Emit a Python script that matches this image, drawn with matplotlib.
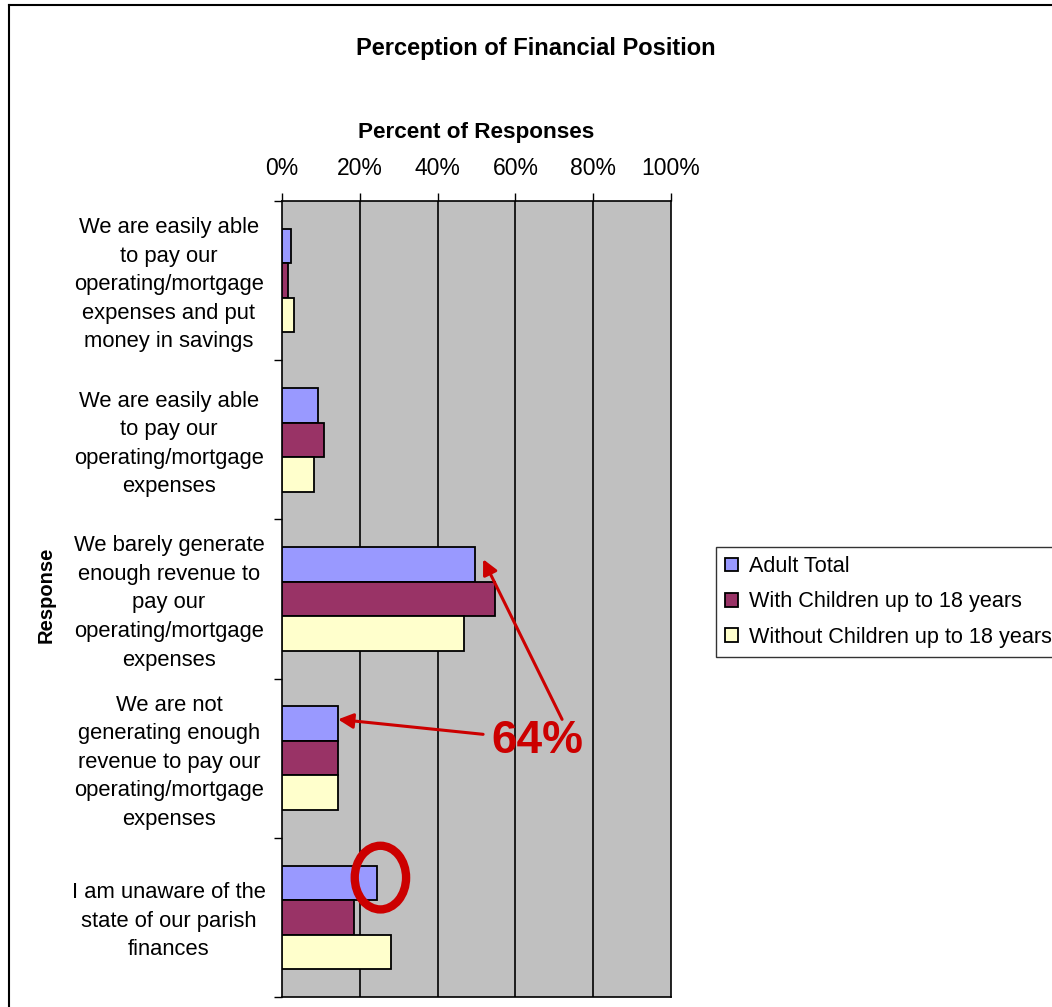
import numpy as np
import matplotlib.pyplot as plt
from matplotlib.patches import Ellipse
from matplotlib.lines import Line2D

plt.rcParams['font.family'] = ['Liberation Sans', 'DejaVu Sans']

# survey answers, top to bottom
responses = [
    "We are easily able\nto pay our\noperating/mortgage\nexpenses and put\nmoney in savings",
    "We are easily able\nto pay our\noperating/mortgage\nexpenses",
    "We barely generate\nenough revenue to\npay our\noperating/mortgage\nexpenses",
    "We are not\ngenerating enough\nrevenue to pay our\noperating/mortgage\nexpenses",
    "I am unaware of the\nstate of our parish\nfinances",
]
adult_total = [2.4, 9.3, 49.6, 14.4, 24.4]
with_children = [1.6, 10.9, 54.8, 14.4, 18.6]
without_children = [3.1, 8.2, 46.9, 14.4, 27.9]
series_names = ["Adult Total", "With Children up to 18 years",
                "Without Children up to 18 years"]
series_colors = ["#9999FF", "#993366", "#FFFFCC"]
xticks = [0, 20, 40, 60, 80, 100]
highlight = 64

W, H = 1052, 1007
fig = plt.figure(figsize=(W / 100, H / 100), dpi=100)
ax = fig.add_axes([282 / W, 10 / H, 389 / W, 796 / H])
ax.set_facecolor("#C0C0C0")

y = np.arange(len(responses))
bh = 0.2165
for k, (vals, name, col) in enumerate(zip([adult_total, with_children, without_children],
                                          series_names, series_colors)):
    ax.barh(y + (k - 1) * bh, vals, height=bh, color=col, edgecolor="black",
            linewidth=1.3, label=name, zorder=3)

ax.set_xlim(0, 100)
ax.set_ylim(len(responses) - 0.5, -0.5)
ax.xaxis.tick_top()
ax.xaxis.set_label_position("top")
ax.set_xticks(xticks)
ax.set_xticklabels([f"{t}%" for t in xticks], fontsize=16.5)
ax.tick_params(axis="x", direction="out", length=6, width=1, pad=9, colors="black")
ax.set_yticks(np.arange(len(responses) + 1) - 0.5)
ax.set_yticklabels([])
ax.tick_params(axis="y", direction="out", length=6, width=1)
for g in xticks[1:-1]:
    ax.axvline(g, color="black", lw=1.2, zorder=1)
for s in ax.spines.values():
    s.set_color("black")
    s.set_linewidth(1.2)

ax.set_xlabel("Percent of Responses", fontsize=16.2, fontweight="bold", labelpad=14)

# category labels centred in the margin left of the plot
lab_x = (169 - 282) / 389
for i, lab in enumerate(responses):
    ax.text(lab_x, i + 0.025, lab, transform=ax.get_yaxis_transform(), fontsize=15.8,
            ha="center", va="center", multialignment="center", linespacing=1.47)
fig.text(46 / W, 1 - 595 / H, "Response", rotation=90, fontsize=14.5,
         fontweight="bold", ha="center", va="center")
fig.text(536 / W, 1 - 48 / H, "Perception of Financial Position", fontsize=17,
         fontweight="bold", ha="center", va="center")

# annotation: share that is barely or not covering expenses
red = "#CC0000"
ax.annotate("", xy=(adult_total[2] + 2.1, 1.75), xytext=(72.0, 2.756),
            arrowprops=dict(arrowstyle="-|>,head_length=0.9,head_width=0.45",
                            color=red, lw=2.2, shrinkA=0, shrinkB=0), zorder=5)
ax.annotate("", xy=(adult_total[3], 2.756), xytext=(51.7, 2.85),
            arrowprops=dict(arrowstyle="-|>,head_length=0.9,head_width=0.45",
                            color=red, lw=2.2, shrinkA=0, shrinkB=0), zorder=5)
ax.text(65.6, 2.894, f"{highlight}%", color=red, fontsize=33, fontweight="bold",
        ha="center", va="center", zorder=6)
ax.add_patch(Ellipse((25.3, 3.75), 13.2, 0.40, fill=False, edgecolor=red,
                     lw=6, zorder=6))

leg = ax.legend(loc="upper left", bbox_to_anchor=(716 / W, 1 - 547 / H),
                bbox_transform=fig.transFigure, fontsize=15.6, frameon=True,
                fancybox=False, edgecolor="black", handlelength=0.6,
                handleheight=0.6, handletextpad=0.5, labelspacing=0.66,
                borderpad=0.42, borderaxespad=0)
leg.get_frame().set_linewidth(1.0)

# outer chart border
fig.add_artist(Line2D([9 / W, 9 / W], [1 - 5 / H, 0], color="black", lw=1.5))
fig.add_artist(Line2D([9 / W, 1], [1 - 5 / H, 1 - 5 / H], color="black", lw=1.5))

fig.savefig("out.png", dpi=100)
